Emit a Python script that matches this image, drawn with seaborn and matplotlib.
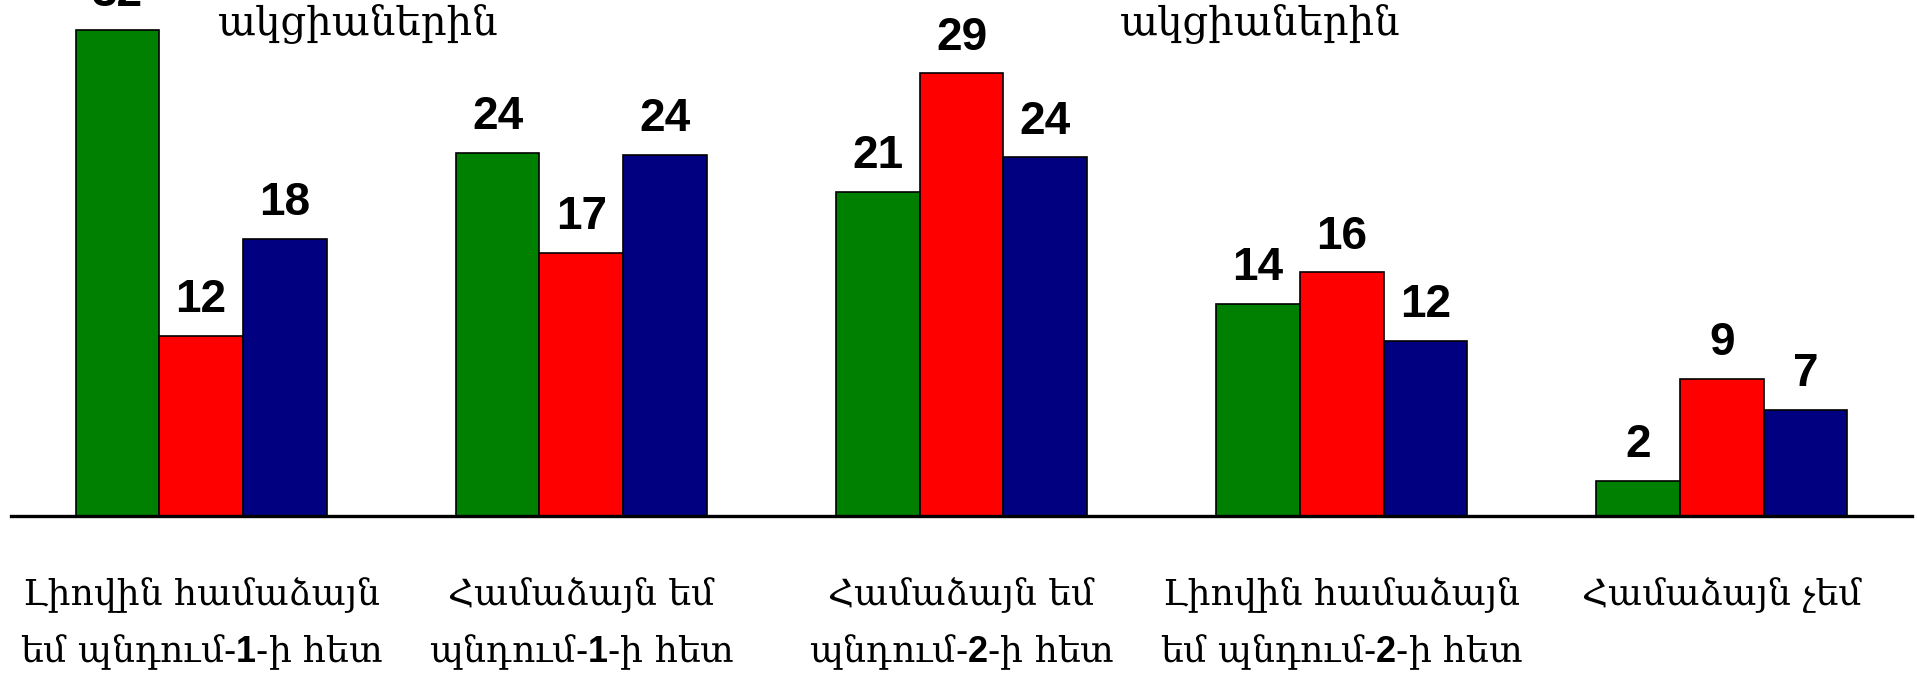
import matplotlib
matplotlib.use("Agg")
import matplotlib.pyplot as plt
import seaborn as sns
import pandas as pd

categories = [
    "Լիովին համաձայն\nեմ պնդում-$\\mathbf{1}$-ի հետ",
    "Համաձայն եմ\nպնդում-$\\mathbf{1}$-ի հետ",
    "Համաձայն եմ\nպնդում-$\\mathbf{2}$-ի հետ",
    "Լիովին համաձայն\nեմ պնդում-$\\mathbf{2}$-ի հետ",
    "Համաձայն չեմ",
]
series_names = ["Խումբ 1", "Խումբ 2", "Խումբ 3"]
values_green = [32.1, 24.0, 21.4, 14.0, 2.3]
values_red = [11.9, 17.4, 29.25, 16.1, 9.05]
values_blue = [18.3, 23.85, 23.7, 11.55, 7.0]
labels_green = [32, 24, 21, 14, 2]
labels_red = [12, 17, 29, 16, 9]
labels_blue = [18, 24, 24, 12, 7]
legend_fragments = ["ակցիաներին", "ակցիաներին"]

colors = ["#008000", "#FF0000", "#000080"]

rows = []
for s, vals in zip(series_names, [values_green, values_red, values_blue]):
    for c, v in zip(categories, vals):
        rows.append({"category": c, "series": s, "value": v})
df = pd.DataFrame(rows)

sns.set_style("white")
plt.rcParams["font.family"] = ["DejaVu Serif", "DejaVu Sans"]
plt.rcParams["text.color"] = "black"
plt.rcParams["xtick.color"] = "black"
plt.rcParams["mathtext.fontset"] = "custom"
plt.rcParams["mathtext.bf"] = "Liberation Sans:bold"
plt.rcParams["mathtext.rm"] = "DejaVu Serif"

W, H = 1917, 678
fig = plt.figure(figsize=(W / 100, H / 100), dpi=100)
ax = fig.add_axes([11 / W, (H - 516) / H, (1912 - 11) / W, 516 / H])

sns.barplot(data=df, x="category", y="value", hue="series", order=categories,
            hue_order=series_names, palette=colors, width=0.66, gap=0,
            edgecolor="black", linewidth=1.2, saturation=1, legend=False, ax=ax)

for cont, labs in zip(ax.containers, [labels_green, labels_red, labels_blue]):
    ax.bar_label(cont, labels=[str(v) for v in labs], padding=10, fontsize=33,
                 fontweight="bold", family="Liberation Sans", color="black", clip_on=False)

ax.set_ylim(0, 516 / 15.13)
ax.set_xlim(-0.5, len(categories) - 0.5)
for sp in ["left", "right", "top"]:
    ax.spines[sp].set_visible(False)
ax.spines["bottom"].set_linewidth(2.4)
ax.spines["bottom"].set_color("black")
ax.set_yticks([])
ax.set_xlabel("")
ax.set_ylabel("")
ax.set_xticks(range(len(categories)))
ax.set_xticklabels(categories, fontsize=26, linespacing=1.7, color="black")
ax.tick_params(axis="x", which="major", length=0, pad=43)
ax.set_xticks([i - 0.5 for i in range(len(categories) + 1)], minor=True)
ax.tick_params(axis="x", which="minor", length=8, width=1.2, direction="out", color="black")

fig.text(218 / W, 1 - 35 / H, legend_fragments[0], fontsize=29, va="baseline", ha="left",
         color="black")
fig.text(1120 / W, 1 - 35 / H, legend_fragments[1], fontsize=29, va="baseline", ha="left",
         color="black")

fig.savefig("out.png", dpi=100)
